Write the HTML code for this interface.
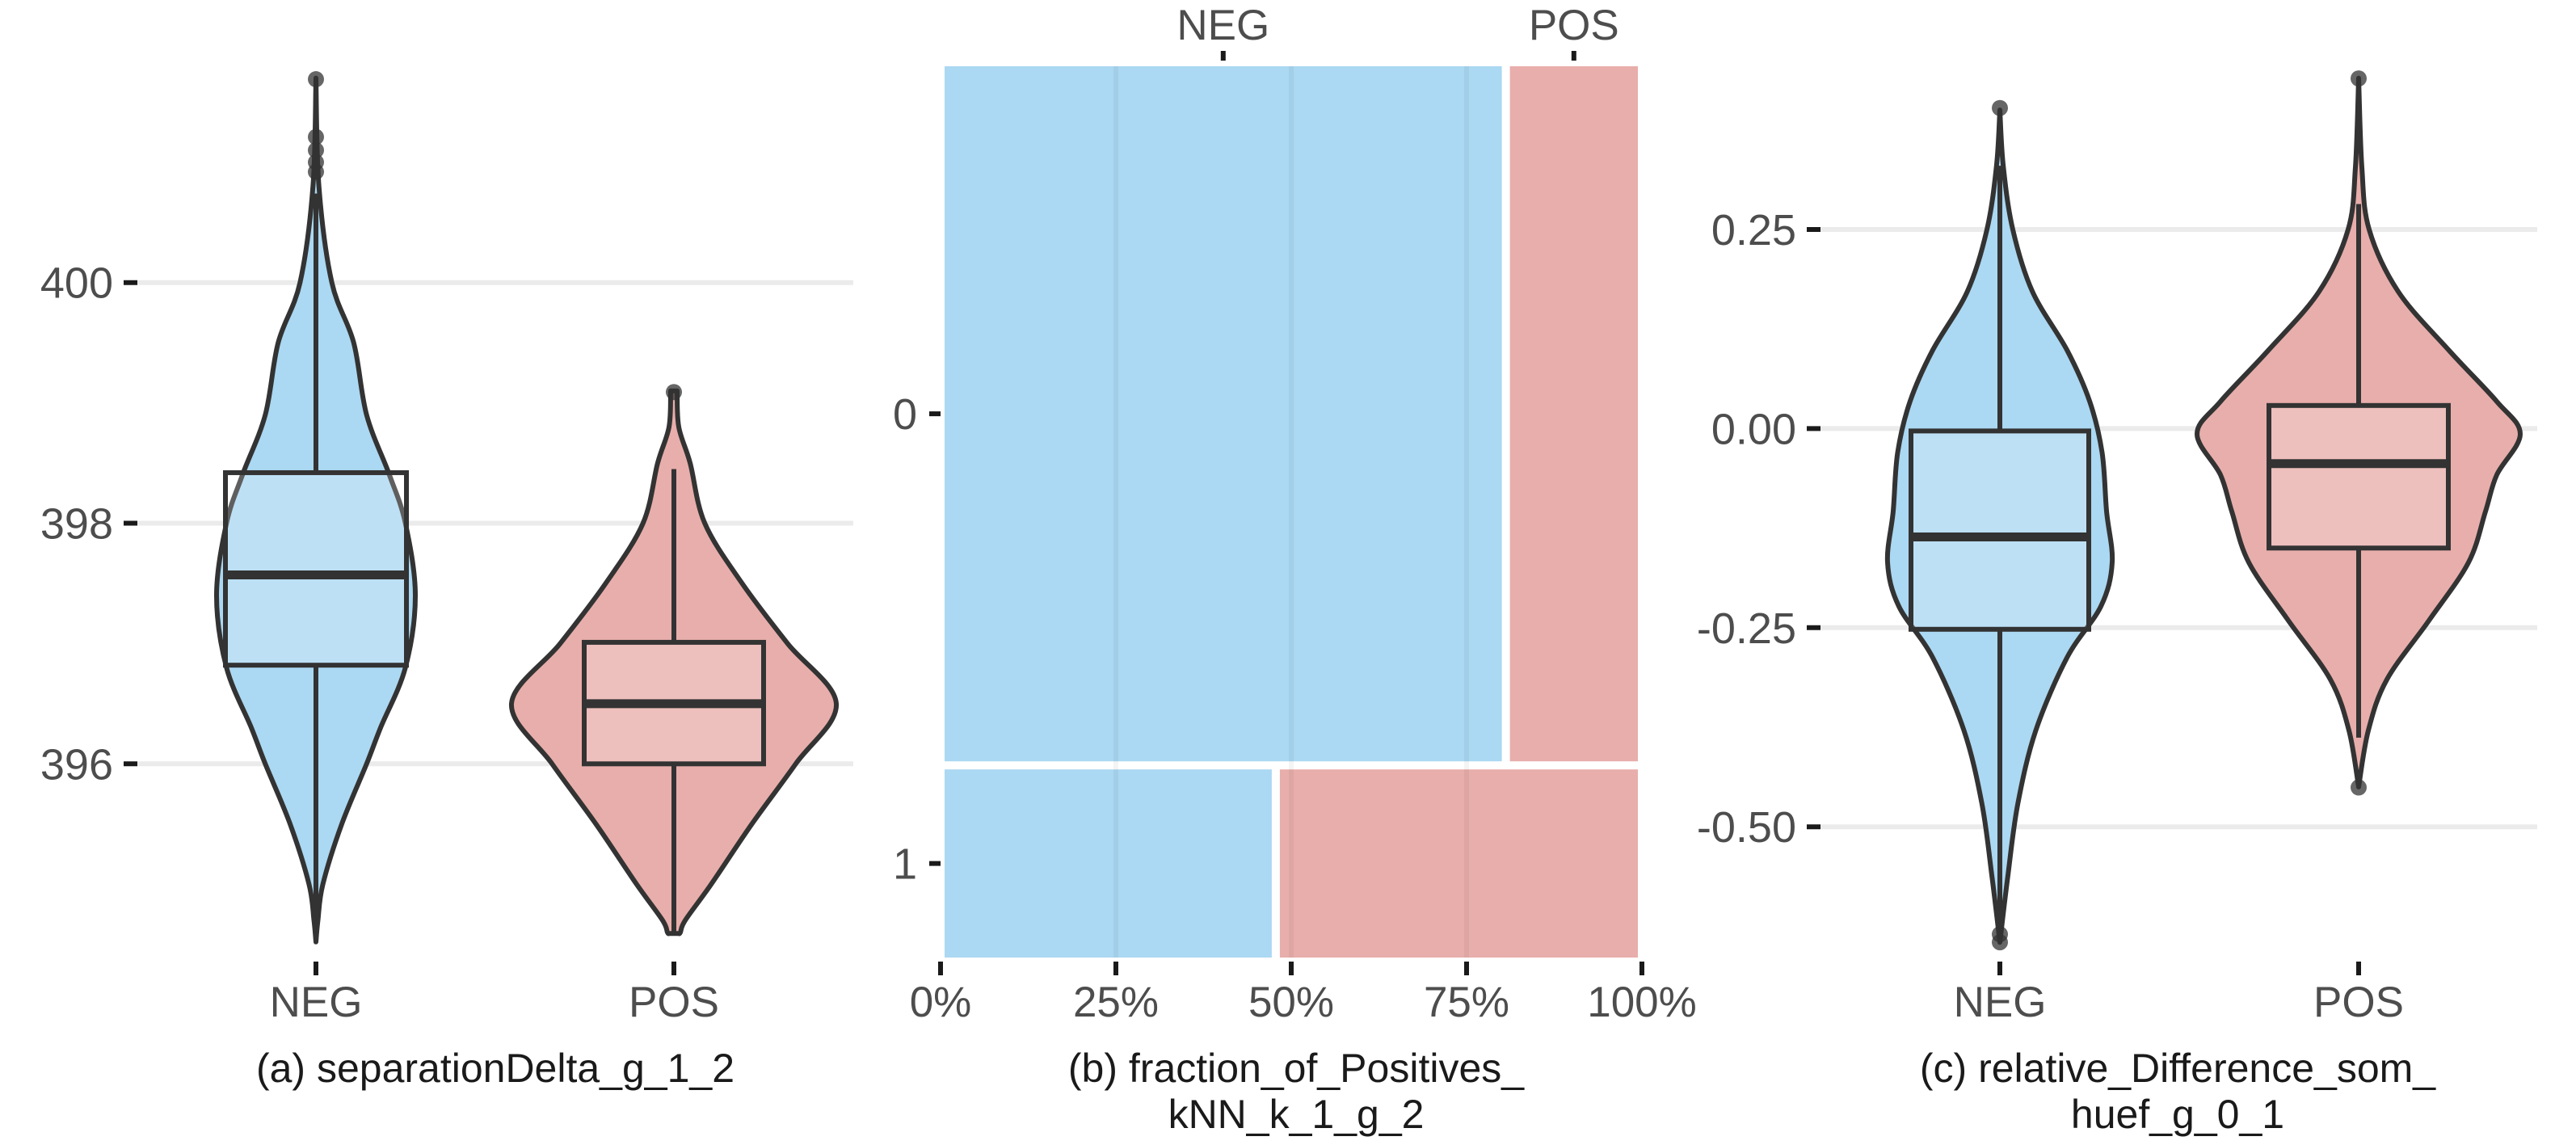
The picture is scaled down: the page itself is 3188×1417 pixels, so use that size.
<!DOCTYPE html>
<html><head><meta charset="utf-8"><style>
html,body{margin:0;padding:0;background:#fff;}
svg{display:block;font-family:"Liberation Sans",sans-serif;}
</style></head><body>
<svg id="chart" width="3188" height="1417" viewBox="0 0 3188 1417" xmlns="http://www.w3.org/2000/svg"></svg>
<script>
// ---------- Panel A data ----------
const aCategories = ["NEG","POS"];
const aTicks = [396,398,400];
const aNegDensV = [401.7,400.8,400.0,399.5,398.9,398.4,398.0,397.4,396.8,396.3,396.0,395.5,395.0,394.7,394.52];
const aNegDensW = [0,0.03,0.16,0.38,0.51,0.74,0.9,1,0.9,0.65,0.51,0.26,0.07,0.02,0];
const aPosDensV = [399.1,398.8,398.5,398.0,397.5,397.0,396.5,396.0,395.5,395.0,394.7,394.6,394.59];
const aPosDensW = [0.02,0.03,0.1,0.19,0.42,0.7,1,0.75,0.48,0.23,0.07,0.04,0.03];
const aBoxNeg = [394.6,396.82,397.57,398.42,400.74]; // min,q1,med,q3,max
const aBoxPos = [394.6,396.0,396.5,397.01,398.45];
const aOutNeg = [401.69,401.21,401.1,401.0,400.92];
const aOutPos = [399.09];
// ---------- Panel B data ----------
const bRows = ["0","1"];
const bRowShare = [0.787,0.213];
const bNegFrac = [0.806,0.478];
const bXTicks = [0,25,50,75,100];
// ---------- Panel C data ----------
const cTicks = [-0.50,-0.25,0.00,0.25];
const cTickLabels = ["-0.50","-0.25","0.00","0.25"];
const cNegDensV = [0.40,0.33,0.25,0.172,0.098,0.034,-0.03,-0.104,-0.168,-0.223,-0.287,-0.379,-0.471,-0.563,-0.645];
const cNegDensW = [0,0.03,0.115,0.29,0.6,0.8,0.91,0.95,1,0.9,0.6,0.32,0.16,0.07,0];
const cPosDensV = [0.44,0.328,0.25,0.172,0.098,0.034,-0.007,-0.058,-0.104,-0.168,-0.241,-0.315,-0.379,-0.45];
const cPosDensW = [0,0.02,0.065,0.245,0.56,0.855,1,0.855,0.785,0.68,0.435,0.175,0.06,0];
const cBoxNeg = [-0.63,-0.252,-0.136,-0.003,0.33];
const cBoxPos = [-0.388,-0.15,-0.044,0.029,0.282];
const cOutNeg = [0.4025,-0.645,-0.635];
const cOutPos = [0.4396,-0.4506];

const NS="http://www.w3.org/2000/svg";
const svg=document.getElementById('chart');
function mk(tag,attrs,parent){const e=document.createElementNS(NS,tag);for(const k in attrs)e.setAttribute(k,attrs[k]);(parent||svg).appendChild(e);return e;}
function txt(s,x,y,size,anchor,fill,parent){const t=mk('text',{x:x,y:y,'font-size':size,'text-anchor':anchor,fill:fill},parent);t.textContent=s;return t;}
function smooth(pts){let d='M'+pts[0][0]+','+pts[0][1];for(let i=0;i<pts.length-1;i++){const p0=pts[Math.max(0,i-1)],p1=pts[i],p2=pts[i+1],p3=pts[Math.min(pts.length-1,i+2)];const c1=[p1[0]+(p2[0]-p0[0])/6,p1[1]+(p2[1]-p0[1])/6];const c2=[p2[0]-(p3[0]-p1[0])/6,p2[1]-(p3[1]-p1[1])/6];d+=' C'+c1[0]+','+c1[1]+' '+c2[0]+','+c2[1]+' '+p2[0]+','+p2[1];}return d;}
function violinPath(cx,vals,ws,maxHalf,y){const right=vals.map((v,i)=>[cx+ws[i]*maxHalf,y(v)]);const left=vals.map((v,i)=>[cx-ws[i]*maxHalf,y(v)]).reverse();let d=smooth(right);d+=' L'+left[0][0]+','+left[0][1];d+=smooth(left).replace(/^M[^C]*/,' ');return d+' Z';}

function violinPanel(cfg){
  const g=mk('g',{});
  
  
  const y=cfg.y;
  cfg.ticks.forEach((t,i)=>{
    const gl=mk('line',{x1:cfg.x0,x2:cfg.x1,y1:y(t),y2:y(t),stroke:'#ebebeb','stroke-width':6},g);
    
    const tk=mk('line',{x1:cfg.x0-17,x2:cfg.x0,y1:y(t),y2:y(t),stroke:'#1a1a1a','stroke-width':6},g);
    
    const lb=txt(cfg.tickLabels[i],cfg.x0-30,y(t)+19,54,'end','#4d4d4d',g);
    
  });
  cfg.groups.forEach((gr,i)=>{
    const cx=gr.cx;
    const vp=mk('path',{d:violinPath(cx,gr.dv,gr.dw,gr.maxHalf,y),fill:gr.vfill,stroke:'#333','stroke-width':6,'stroke-linejoin':'round'},g);
    
    const b=gr.box;
    const w1=mk('line',{x1:cx,x2:cx,y1:y(b[3]),y2:y(b[4]),stroke:'#333','stroke-width':6},g);
    
    const w2=mk('line',{x1:cx,x2:cx,y1:y(b[1]),y2:y(b[0]),stroke:'#333','stroke-width':6},g);
    
    const r=mk('rect',{x:cx-gr.boxHalf,y:y(b[3]),width:2*gr.boxHalf,height:y(b[1])-y(b[3]),fill:'#ffffff','fill-opacity':0.22,stroke:'#333','stroke-width':6},g);
    
    const m=mk('line',{x1:cx-gr.boxHalf,x2:cx+gr.boxHalf,y1:y(b[2]),y2:y(b[2]),stroke:'#333','stroke-width':11},g);
    
    gr.out.forEach(o=>{const c=mk('circle',{cx:cx,cy:y(o),r:10,fill:'#333','fill-opacity':0.75},g);
      });
    const tk=mk('line',{x1:cx,x2:cx,y1:1190,y2:1207,stroke:'#1a1a1a','stroke-width':6},g);
    
    const lb=txt(gr.label,cx,1258,53,'middle','#4d4d4d',g);
    
  });
  cfg.caption.forEach((c,i)=>{const t=txt(c,cfg.capX,1339+i*57,50,'middle','#1a1a1a',g);
    });
}

const BLUE='#abd8f2',PINK='#e8aeab';
// Panel A
violinPanel({name:'panel-a',x0:170,x1:1056,y:v=>349.7+(400-v)*148.9,ticks:aTicks,tickLabels:aTicks.map(String),capX:613,
  caption:['(a) separationDelta_g_1_2'],
  groups:[{label:aCategories[0],cx:391,dv:aNegDensV,dw:aNegDensW,maxHalf:123,box:aBoxNeg,boxHalf:112,out:aOutNeg,vfill:BLUE},
          {label:aCategories[1],cx:834,dv:aPosDensV,dw:aPosDensW,maxHalf:201,box:aBoxPos,boxHalf:111,out:aOutPos,vfill:PINK}]});
// Panel C
violinPanel({name:'panel-c',x0:2253,x1:3140,y:v=>530.4-v*985.6,ticks:cTicks,tickLabels:cTickLabels,capX:2695,
  caption:['(c) relative_Difference_som_','huef_g_0_1'],
  groups:[{label:'NEG',cx:2475,dv:cNegDensV,dw:cNegDensW,maxHalf:139,box:cBoxNeg,boxHalf:110,out:cOutNeg,vfill:BLUE},
          {label:'POS',cx:2919,dv:cPosDensV,dw:cPosDensW,maxHalf:200,box:cBoxPos,boxHalf:111,out:cOutPos,vfill:PINK}]});

// Panel B mosaic
(function(){
  const g=mk('g',{});
  
  const X0=1164,X1=2032,xs=p=>X0+(X1-X0)*p/100;
  const top=82,bottom=1185,gap=10,inset=5;
  const avail=bottom-top-gap*(bRows.length-1);
  let yy=top;
  bRows.forEach((row,i)=>{
    const h=avail*bRowShare[i];
    const nx=xs(bNegFrac[i]*100);
    const r1=mk('rect',{x:X0+inset,y:yy,width:nx-gap/2-X0-inset,height:h,fill:BLUE},g);
    
    const r2=mk('rect',{x:nx+gap/2,y:yy,width:X1-inset-nx-gap/2,height:h,fill:PINK},g);
    
    const tk=mk('line',{x1:1150,x2:1164,y1:yy+h/2,y2:yy+h/2,stroke:'#1a1a1a','stroke-width':6},g);
    
    const lb=txt(row,1135,yy+h/2+19,54,'end','#4d4d4d',g);
    
    if(i===0){
      [['NEG',(X0+inset+nx-gap/2)/2],['POS',(nx+gap/2+X1-inset)/2]].forEach(([l,cx])=>{
        const t2=mk('line',{x1:cx,x2:cx,y1:63,y2:75,stroke:'#1a1a1a','stroke-width':6},g);
        
        const tl=txt(l,cx,49,53,'middle','#4d4d4d',g);
        
      });
    }
    yy+=h+gap;
  });
  bXTicks.forEach(p=>{
    if(p>0&&p<100){const gl=mk('line',{x1:xs(p),x2:xs(p),y1:top,y2:bottom,stroke:'#000','stroke-opacity':0.045,'stroke-width':6},g);
      }
    const tk=mk('line',{x1:xs(p),x2:xs(p),y1:1190,y2:1207,stroke:'#1a1a1a','stroke-width':6},g);
    
    const lb=txt(p+'%',xs(p),1258,53,'middle','#4d4d4d',g);
    
  });
  ['(b) fraction_of_Positives_','kNN_k_1_g_2'].forEach((c,i)=>{const t=txt(c,1604,1339+i*57,50,'middle','#1a1a1a',g);
    });
})();
</script>
</body></html>
